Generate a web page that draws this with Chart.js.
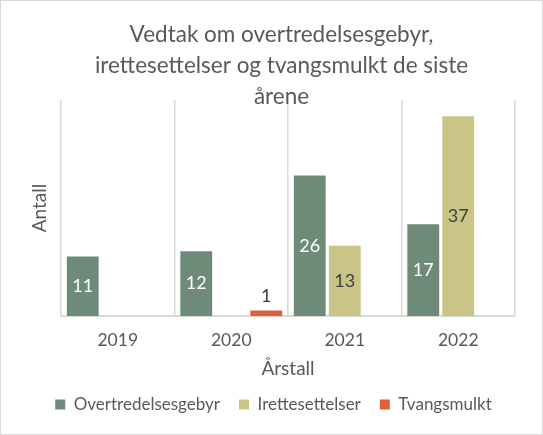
<!DOCTYPE html>
<html>
<head>
<meta charset="utf-8">
<script src="https://cdn.jsdelivr.net/npm/chart.js@4/dist/chart.umd.min.js"></script>
<style>
html,body{margin:0;padding:0;background:#fff;}
#wrap{width:543px;height:435px;position:relative;}
</style>
</head>
<body>
<div id="wrap"><canvas id="c" width="543" height="435"></canvas></div>
<script>
const categories = ['2019', '2020', '2021', '2022'];
const overtredelsesgebyr = [11, 12, 26, 17];
const irettesettelser = [null, null, 13, 37];
const tvangsmulkt = [null, 1, null, null];
const seriesNames = ['Overtredelsesgebyr', 'Irettesettelser', 'Tvangsmulkt'];
const titleLines = ['Vedtak om overtredelsesgebyr,', 'irettesettelser og tvangsmulkt de siste', 'årene'];

const FONT = 'Lato, "Open Sans", sans-serif';
const TXT = '#595959';

const labelPlugin = {
  id: 'barLabels',
  afterDatasetsDraw(chart) {
    const ctx = chart.ctx;
    ctx.save();
    ctx.font = '18px ' + FONT;
    ctx.textAlign = 'center';
    ctx.textBaseline = 'middle';
    chart.data.datasets.forEach((ds, i) => {
      const meta = chart.getDatasetMeta(i);
      meta.data.forEach((bar, j) => {
        const v = ds.data[j];
        if (v === null || v === undefined) return;
        const h = bar.base - bar.y;
        if (h > 24) {
          ctx.fillStyle = ds.labelColor;
          ctx.fillText(String(v), bar.x, (bar.y + bar.base) / 2);
        } else {
          ctx.fillStyle = '#404040';
          ctx.fillText(String(v), bar.x, bar.y - 14);
        }
      });
    });
    ctx.restore();
  }
};

const framePlugin = {
  id: 'frame',
  afterLayout(chart) {
    const t = chart.titleBlock;
    if (t) { t.left += 12; t.right += 12; }
    const l = chart.legend;
    if (l) { l.left += 4; l.right += 4; }
  },
  afterDraw(chart) {
    const ctx = chart.ctx;
    ctx.save();
    ctx.strokeStyle = '#d9d9d9';
    ctx.lineWidth = 1;
    ctx.strokeRect(0.5, 0.5, chart.width - 1, chart.height - 1);
    ctx.restore();
  }
};

new Chart(document.getElementById('c'), {
  type: 'bar',
  data: {
    labels: categories,
    datasets: [
      { label: seriesNames[0], data: overtredelsesgebyr, backgroundColor: '#6E8A79', labelColor: '#ffffff' },
      { label: seriesNames[1], data: irettesettelser, backgroundColor: '#CAC587', labelColor: '#404040' },
      { label: seriesNames[2], data: tvangsmulkt, backgroundColor: '#D9623B', labelColor: '#ffffff' }
    ]
  },
  options: {
    responsive: false,
    animation: false,
    devicePixelRatio: 1,
    layout: { padding: { left: 24, right: 28, top: 0, bottom: 12 } },
    datasets: { bar: { barPercentage: 0.91, categoryPercentage: 0.925 } },
    plugins: {
      title: {
        display: true,
        text: titleLines,
        color: TXT,
        font: { family: FONT, size: 22.5, weight: 'normal', lineHeight: '31px' },
        padding: { top: 19, bottom: -12 }
      },
      legend: {
        position: 'bottom',
        labels: {
          color: TXT,
          font: { family: FONT, size: 17 },
          boxWidth: 10,
          boxHeight: 10,
          padding: 19
        }
      },
      tooltip: { enabled: false }
    },
    scales: {
      x: {
        grid: { display: true, offset: true, color: '#d9d9d9', lineWidth: 1.5, drawTicks: false },
        border: { display: true, color: '#d9d9d9', width: 2 },
        ticks: { color: TXT, font: { family: FONT, size: 17.5 }, padding: 14 },
        title: { display: true, text: 'Årstall', color: TXT, font: { family: FONT, size: 19 }, padding: { top: 0, bottom: -3 } },
        afterFit(scale) { scale.height = 61; }
      },
      y: {
        min: 0,
        max: 40,
        grid: { display: false },
        border: { display: false },
        ticks: { display: false },
        title: { display: true, text: 'Antall', color: TXT, font: { family: FONT, size: 19 }, padding: { top: 4, bottom: 4 } },
        afterFit(scale) { scale.width = 37; }
      }
    }
  },
  plugins: [labelPlugin, framePlugin]
});
</script>
</body>
</html>
